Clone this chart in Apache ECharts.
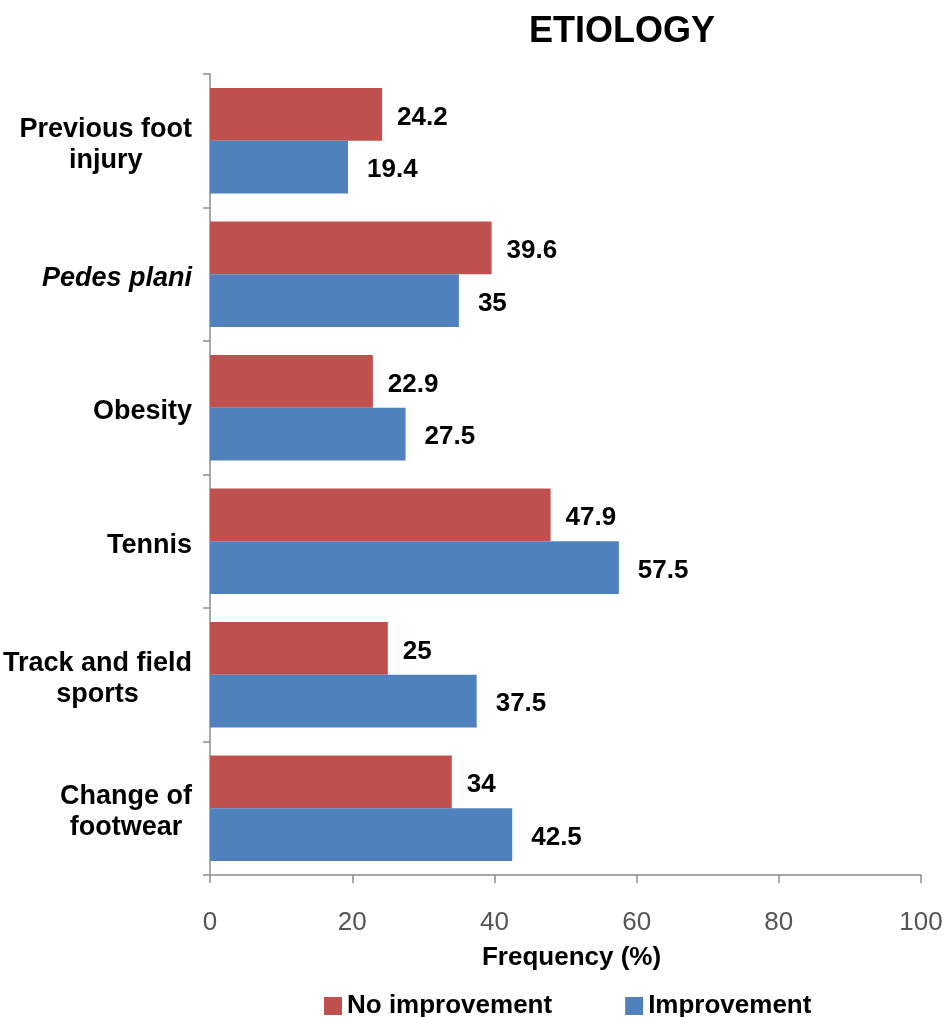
<!DOCTYPE html>
<html>
<head>
<meta charset="utf-8">
<title>Etiology</title>
<script src="https://cdn.jsdelivr.net/npm/echarts@6/dist/echarts.min.js"></script>
<style>
  html, body { margin: 0; padding: 0; background: #fff; }
  #chart { width: 948px; height: 1017px; }
</style>
</head>
<body>
<div id="chart"></div>
<script>
// Categories, top to bottom
const categories = [
  'Previous foot\ninjury',
  'Pedes plani',
  'Obesity',
  'Tennis',
  'Track and field\nsports',
  'Change of\nfootwear'
];
// Categories written in italics (Latin terms)
const italicCategories = ['Pedes plani'];

const seriesNames = ['No improvement', 'Improvement'];
const noImprovement = [24.2, 39.6, 22.9, 47.9, 25, 34];
const improvement = [19.4, 35, 27.5, 57.5, 37.5, 42.5];

const xTicks = [0, 20, 40, 60, 80, 100];

const FONT = '"Liberation Sans", Arial, sans-serif';
const AXIS_GREY = '#8c8c8c';

const chart = echarts.init(document.getElementById('chart'), null, { renderer: 'canvas' });

// Each line of a category name is centred inside its right-aligned block
function categoryLabel(value) {
  const style = italicCategories.indexOf(value) >= 0 ? 'i' : 'c';
  return value.split('\n').map(line => '{' + style + '|' + line + '}').join('\n');
}

const valueLabel = (distance) => ({
  show: true,
  position: 'right',
  distance: distance,
  offset: [0, 3],
  fontFamily: FONT,
  fontSize: 26,
  fontWeight: 'bold',
  color: '#000'
});

chart.setOption({
  backgroundColor: '#ffffff',
  animation: false,
  title: {
    text: 'ETIOLOGY',
    left: 524,
    top: 9,
    textStyle: { fontFamily: FONT, fontSize: 36, fontWeight: 'bold', color: '#000' }
  },
  legend: {
    data: seriesNames,
    left: 319,
    top: 988,
    icon: 'rect',
    itemWidth: 18,
    itemHeight: 18,
    itemGap: 73,
    textStyle: { fontFamily: FONT, fontSize: 26, fontWeight: 'bold', color: '#000' }
  },
  grid: { left: 210, right: 27, top: 74, bottom: 142, containLabel: false },
  xAxis: {
    type: 'value',
    min: xTicks[0],
    max: xTicks[xTicks.length - 1],
    interval: xTicks[1] - xTicks[0],
    name: 'Frequency (%)',
    nameLocation: 'middle',
    nameGap: 70,
    nameTextStyle: { fontFamily: FONT, fontSize: 26, fontWeight: 'bold', color: '#000', padding: [0, 0, 0, 12] },
    axisLine: { show: true, lineStyle: { color: AXIS_GREY, width: 1.5 } },
    axisTick: { show: true, length: 8, lineStyle: { color: AXIS_GREY, width: 1.5 } },
    axisLabel: { margin: 35, fontFamily: FONT, fontSize: 26, color: '#555' },
    splitLine: { show: false }
  },
  yAxis: {
    type: 'category',
    inverse: true,
    data: categories,
    axisLine: { show: true, lineStyle: { color: AXIS_GREY, width: 1.5 } },
    axisTick: { show: true, length: 7, lineStyle: { color: AXIS_GREY, width: 1.5 } },
    axisLabel: {
      margin: 18,
      align: 'right',
      padding: [8, 0, 0, 0],
      formatter: categoryLabel,
      rich: {
        c: { align: 'center', fontFamily: FONT, fontSize: 27, fontWeight: 'bold', color: '#000', lineHeight: 31 },
        i: { align: 'center', fontFamily: FONT, fontSize: 27, fontWeight: 'bold', fontStyle: 'italic', color: '#000', lineHeight: 31 }
      }
    },
    splitLine: { show: false }
  },
  series: [
    {
      name: seriesNames[0],
      type: 'bar',
      data: noImprovement,
      barGap: '0%',
      barCategoryGap: '21%',
      itemStyle: { color: '#C0504D' },
      label: valueLabel(15)
    },
    {
      name: seriesNames[1],
      type: 'bar',
      data: improvement,
      barGap: '0%',
      barCategoryGap: '21%',
      itemStyle: { color: '#4F81BD' },
      label: valueLabel(19)
    }
  ]
});
</script>
</body>
</html>
